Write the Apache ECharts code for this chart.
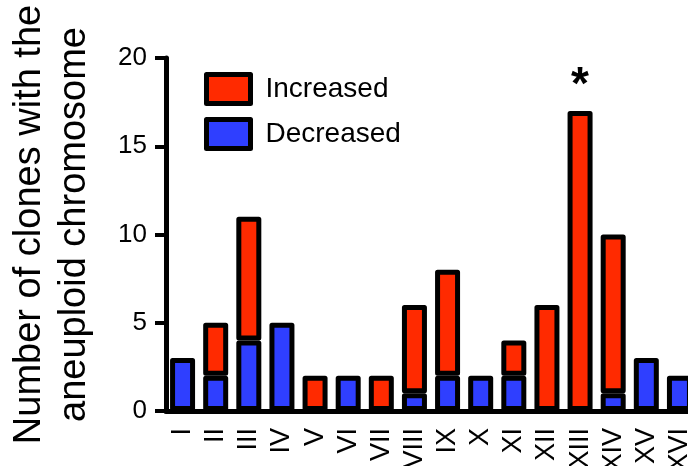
<!DOCTYPE html>
<html>
<head>
<meta charset="utf-8">
<script src="https://cdn.jsdelivr.net/npm/echarts@6/dist/echarts.min.js"></script>
<style>html,body{margin:0;padding:0;background:#fff}#c{width:688px;height:466px}</style>
</head>
<body>
<div id="c"></div>
<script>
const categories = ['I','II','III','IV','V','VI','VII','VIII','IX','X','XI','XII','XIII','XIV','XV','XVI'];
const decreased = [3,2,4,5,0,2,0,1,2,2,2,0,0,1,3,2];
const increased = [0,3,7,0,2,0,2,5,6,0,2,6,17,9,0,0];
const markedCategory = 'XIII';
const markText = '*';
const yTicks = { min: 0, max: 20, interval: 5 };

const FONT = '"Liberation Sans", Arial, Helvetica, sans-serif';
const RED = '#FF2A00', BLUE = '#2F3FFF';

const chart = echarts.init(document.getElementById('c'), null, { renderer: 'canvas' });
const noZero = v => (v === 0 ? '-' : v);
const decData = decreased.map(noZero);
const incData = increased.map((v, i) => categories[i] === markedCategory
  ? { value: v, label: { show: true, formatter: markText, position: 'top', distance: 2,
      color: '#000', fontSize: 46, fontWeight: 'bold', fontFamily: FONT } }
  : noZero(v));

chart.setOption({
  animation: false,
  backgroundColor: '#fff',
  grid: { left: 166, right: -8, top: 58, bottom: 55, containLabel: false, outerBoundsMode: 'none' },
  legend: {
    data: ['Increased', 'Decreased'],
    orient: 'vertical',
    left: 199, top: 67,
    itemWidth: 44, itemHeight: 29, itemGap: 11,
    icon: 'rect',
    textStyle: { fontSize: 28, fontFamily: FONT, color: '#000', padding: [0, 0, 0, 10] },
    itemStyle: { borderColor: '#000', borderWidth: 5 }
  },
  xAxis: {
    type: 'category',
    data: categories,
    axisLine: { lineStyle: { color: '#000', width: 5 } },
    axisTick: { alignWithLabel: true, length: 11, lineStyle: { color: '#000', width: 4, cap: 'round' } },
    axisLabel: { rotate: 90, margin: 17, fontSize: 27, fontFamily: FONT, color: '#000', interval: 0 }
  },
  yAxis: {
    type: 'value',
    min: yTicks.min, max: yTicks.max, interval: yTicks.interval,
    splitLine: { show: false },
    axisLine: { show: true, lineStyle: { color: '#000', width: 5 } },
    axisTick: { show: true, length: 11, lineStyle: { color: '#000', width: 4 } },
    axisLabel: { margin: 19, fontSize: 26, fontFamily: FONT, color: '#000' },
    name: 'Number of clones with the\naneuploid chromosome',
    nameLocation: 'middle',
    nameGap: 69,
    nameRotate: 90,
    nameTextStyle: { fontSize: 38, fontFamily: FONT, color: '#000', lineHeight: 45, padding: [0, 0, 0, 20] }
  },
  series: [
    { name: 'Decreased', type: 'bar', stack: 'a', data: decData, barWidth: 25,
      itemStyle: { color: BLUE, borderColor: '#000', borderWidth: 5, borderRadius: 0, borderJoin: 'round' } },
    { name: 'Increased', type: 'bar', stack: 'a', data: incData, barWidth: 25,
      itemStyle: { color: RED, borderColor: '#000', borderWidth: 5, borderRadius: 0, borderJoin: 'round' } }
  ]
});
</script>
</body>
</html>
